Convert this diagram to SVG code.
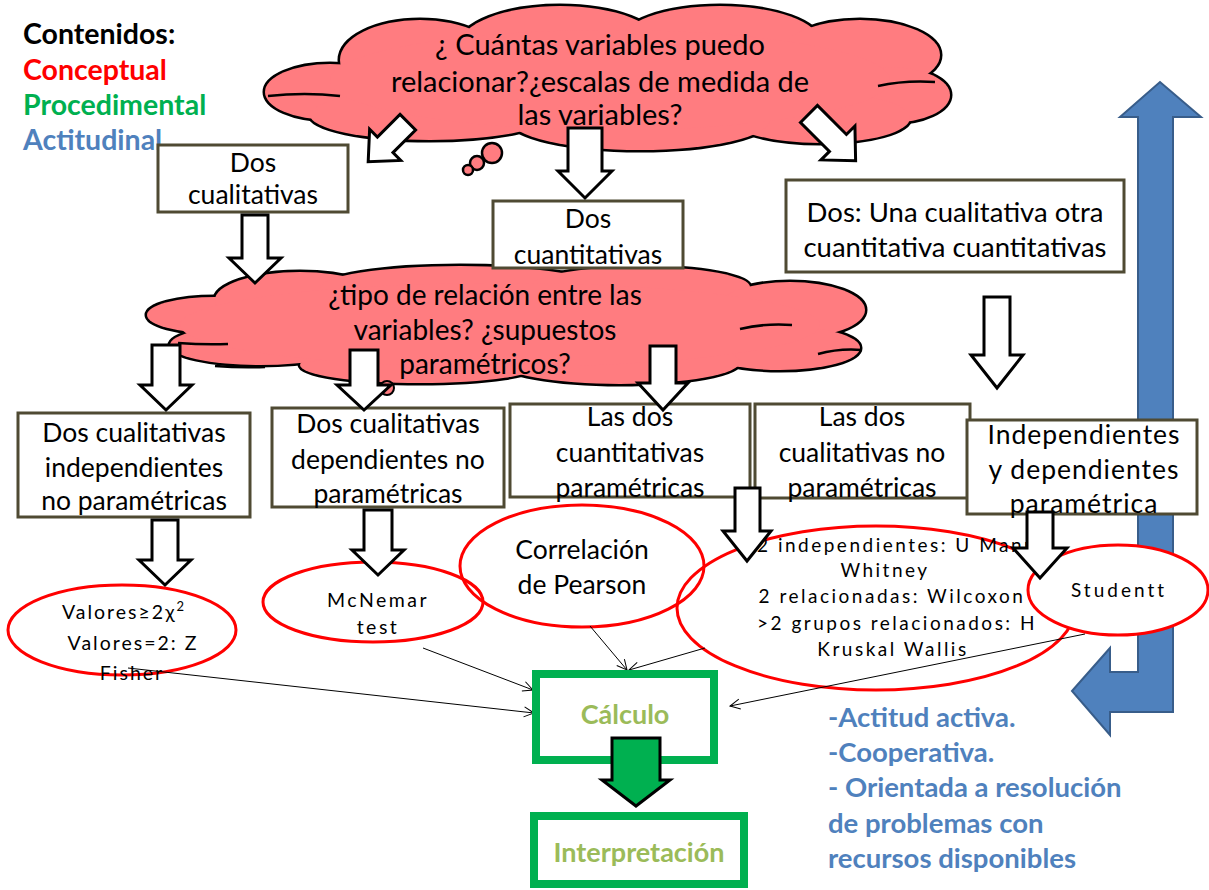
<svg xmlns="http://www.w3.org/2000/svg" width="1209" height="890" viewBox="0 0 1209 890">
<defs>
<style>
text{font-family:Lato,"Open Sans","Liberation Sans",sans-serif;}
.leg{font-size:28.5px;font-weight:bold;}
.cl{font-size:29px;fill:#000;text-anchor:middle;}
.cm{font-size:28px;fill:#000;text-anchor:middle;}
.bx{fill:#fff;stroke:#4F4A33;stroke-width:3;}
.bt{font-size:26.5px;fill:#000;text-anchor:middle;}
.bt2{font-size:27.5px;fill:#000;text-anchor:middle;}
.bt5{font-size:26.5px;fill:#000;text-anchor:middle;letter-spacing:1px;}
.ar{fill:#fff;stroke:#000;stroke-width:3;stroke-linejoin:miter;}
.el{fill:none;stroke:#FF0000;stroke-width:3;}
.elw{fill:#fff;stroke:#FF0000;stroke-width:3;}
.et{font-size:19.5px;fill:#000;text-anchor:middle;letter-spacing:2px;}
.e4{font-size:19px;fill:#000;text-anchor:middle;letter-spacing:2.5px;}
.e41{font-size:19px;fill:#000;text-anchor:start;letter-spacing:2.5px;}
.es{font-size:19px;fill:#000;text-anchor:middle;letter-spacing:3px;}
.eb{font-size:26.5px;fill:#000;text-anchor:middle;}
.cs{fill:#FF7C80;stroke:#000;stroke-width:5;}
.cf{fill:#FF7C80;}
.gb{fill:#fff;stroke:#00B050;stroke-width:8;}
.gt{font-size:27px;font-weight:bold;fill:#9BBB59;text-anchor:middle;}
.bl{font-size:27.5px;font-weight:bold;fill:#4F81BD;}
.cn{fill:none;stroke:#000;stroke-width:1;marker-end:url(#open);}
</style>
<marker id="open" viewBox="0 0 12 12" refX="11" refY="6" markerWidth="12" markerHeight="12" markerUnits="userSpaceOnUse" orient="auto">
<path d="M1,1 L11,6 L1,11" fill="none" stroke="#000" stroke-width="1"/>
</marker>
</defs>

<g id="blue-arrow">
<path d="M1072,691 L1110,648 L1110,672 L1138,672 L1138,117 L1120,117 L1160,82 L1201,117 L1173,117 L1173,712 L1110,712 L1110,735 Z" fill="#4F81BD" stroke="#385D8A" stroke-width="2"/>
</g>

<g id="legend">
<text class="leg" x="23" y="44" fill="#000">Contenidos:</text>
<text class="leg" x="23" y="80" fill="#FF0000">Conceptual</text>
<text class="leg" x="23" y="115" fill="#00B050">Procedimental</text>
<text class="leg" x="23" y="150" fill="#4F81BD">Actitudinal</text>
</g>

<g id="cloud-top">
<g class="cs">
<ellipse cx="330" cy="92" rx="65" ry="28"/>
<ellipse cx="420" cy="60" rx="80" ry="40"/>
<ellipse cx="560" cy="45" rx="100" ry="39"/>
<ellipse cx="720" cy="42" rx="100" ry="36"/>
<ellipse cx="860" cy="55" rx="80" ry="35"/>
<ellipse cx="890" cy="95" rx="60" ry="28"/>
<ellipse cx="820" cy="118" rx="90" ry="25"/>
<ellipse cx="640" cy="120" rx="130" ry="30"/>
<ellipse cx="430" cy="115" rx="120" ry="25"/>
</g>
<g class="cf">
<ellipse cx="330" cy="92" rx="65" ry="28"/>
<ellipse cx="420" cy="60" rx="80" ry="40"/>
<ellipse cx="560" cy="45" rx="100" ry="39"/>
<ellipse cx="720" cy="42" rx="100" ry="36"/>
<ellipse cx="860" cy="55" rx="80" ry="35"/>
<ellipse cx="890" cy="95" rx="60" ry="28"/>
<ellipse cx="820" cy="118" rx="90" ry="25"/>
<ellipse cx="640" cy="120" rx="130" ry="30"/>
<ellipse cx="430" cy="115" rx="120" ry="25"/>
<ellipse cx="610" cy="80" rx="280" ry="50"/>
</g>
<g fill="none" stroke="#000" stroke-width="2.5">
<path d="M268,96 Q305,92 340,96"/>
<path d="M878,86 Q905,80 935,82"/>
</g>
<g fill="#FF7C80" stroke="#000" stroke-width="2.5">
<circle cx="492" cy="153" r="10"/>
<circle cx="477" cy="163" r="7"/>
<circle cx="468" cy="170" r="5"/>
</g>
</g>

<g id="cloud-mid">
<g class="cs">
<ellipse cx="215" cy="315" rx="68" ry="18"/>
<ellipse cx="300" cy="300" rx="85" ry="28"/>
<ellipse cx="460" cy="288" rx="140" ry="22"/>
<ellipse cx="640" cy="287" rx="110" ry="20"/>
<ellipse cx="790" cy="310" rx="75" ry="28"/>
<ellipse cx="780" cy="348" rx="80" ry="22"/>
<ellipse cx="620" cy="362" rx="120" ry="22"/>
<ellipse cx="420" cy="365" rx="120" ry="18"/>
<ellipse cx="260" cy="345" rx="90" ry="20"/>
</g>
<g class="cf">
<ellipse cx="215" cy="315" rx="68" ry="18"/>
<ellipse cx="300" cy="300" rx="85" ry="28"/>
<ellipse cx="460" cy="288" rx="140" ry="22"/>
<ellipse cx="640" cy="287" rx="110" ry="20"/>
<ellipse cx="790" cy="310" rx="75" ry="28"/>
<ellipse cx="780" cy="348" rx="80" ry="22"/>
<ellipse cx="620" cy="362" rx="120" ry="22"/>
<ellipse cx="420" cy="365" rx="120" ry="18"/>
<ellipse cx="260" cy="345" rx="90" ry="20"/>
<ellipse cx="500" cy="325" rx="320" ry="42"/>
</g>
<g fill="none" stroke="#000" stroke-width="2.5">
<path d="M178,343 Q205,345 228,344"/>
<path d="M215,366 Q240,368 265,367"/>
<path d="M740,329 Q765,323 792,325"/>
<path d="M818,354 Q840,348 862,350"/>
</g>
<circle cx="387" cy="388" r="7" fill="#FF7C80" stroke="#000" stroke-width="2"/>
</g>

<g id="box-dos-cualitativas">
<rect class="bx" x="158" y="145" width="190" height="67"/>
<text class="bt" x="253" y="172">Dos</text>
<text class="bt" x="253" y="204">cualitativas</text>
</g>
<g id="box-dos-cuantitativas">
<rect class="bx" x="493" y="201" width="190" height="67"/>
<text class="bt" x="588" y="228">Dos</text>
<text class="bt" x="588" y="264">cuantitativas</text>
</g>
<g id="box-una-cualitativa">
<rect class="bx" x="786" y="180" width="338" height="92"/>
<text class="bt2" x="955" y="222">Dos: Una cualitativa otra</text>
<text class="bt2" x="955" y="257">cuantitativa cuantitativas</text>
</g>

<g id="box-indep-noparam">
<rect class="bx" x="18" y="413" width="232" height="104"/>
<text class="bt" x="134" y="442">Dos cualitativas</text>
<text class="bt" x="134" y="477">independientes</text>
<text class="bt" x="134" y="510">no paramétricas</text>
</g>
<g id="box-dep-noparam">
<rect class="bx" x="272" y="408" width="232" height="99"/>
<text class="bt" x="388" y="433">Dos cualitativas</text>
<text class="bt" x="388" y="469">dependientes no</text>
<text class="bt" x="388" y="503">paramétricas</text>
</g>
<g id="box-cuant-param">
<rect class="bx" x="510" y="404" width="240" height="93"/>
<text class="bt" x="630" y="426">Las dos</text>
<text class="bt" x="630" y="462">cuantitativas</text>
<text class="bt" x="630" y="497">paramétricas</text>
</g>
<g id="box-cual-noparam">
<rect class="bx" x="755" y="404" width="215" height="94"/>
<text class="bt" x="862" y="426">Las dos</text>
<text class="bt" x="862" y="462">cualitativas no</text>
<text class="bt" x="862" y="497">paramétricas</text>
</g>
<g id="box-indep-dep-param">
<rect class="bx" x="967" y="420" width="230" height="94"/>
<text class="bt5" x="1084" y="444">Independientes</text>
<text class="bt5" x="1084" y="479">y dependientes</text>
<text class="bt5" x="1084" y="513">paramétrica</text>
</g>

<g id="block-arrows">
<polygon class="ar" points="568,128 602,128 602,171 612,171 585,198 558,171 568,171"/>
<polygon class="ar" transform="translate(388,142) rotate(45)" points="-11,-28 11,-28 11,4 22,4 0,28 -22,4 -11,4"/>
<polygon class="ar" transform="translate(833,138) rotate(-45)" points="-12,-34 12,-34 12,7 24,7 0,32 -24,7 -12,7"/>
<polygon class="ar" points="242,215 268,215 268,258 281,258 255,283 229,258 242,258"/>
<polygon class="ar" points="984,297 1010,297 1010,355 1023,355 997,388 971,355 984,355"/>
<polygon class="ar" points="152,345 180,345 180,385 192,385 166,410 140,385 152,385"/>
<polygon class="ar" points="350,350 378,350 378,385 391,385 364,410 337,385 350,385"/>
<polygon class="ar" points="650,346 676,346 676,383 688,383 663,410 638,383 650,383"/>
</g>

<g id="cloud-text">
<text class="cl" x="600" y="55">¿ Cuántas variables puedo</text>
<text class="cl" x="600" y="92">relacionar?¿escalas de medida de</text>
<text class="cl" x="600" y="125">las variables?</text>
<text class="cm" x="485" y="305">¿tipo de relación entre las</text>
<text class="cm" x="485" y="340">variables? ¿supuestos</text>
<text class="cm" x="485" y="374">paramétricos?</text>
</g>

<g id="ellipse-chi">
<ellipse class="el" cx="122" cy="630" rx="114" ry="45"/>
<text class="et" x="124" y="619">Valores≥2χ<tspan dy="-8" font-size="13">2</tspan></text>
<text class="et" x="133" y="650">Valores=2: Z</text>
<text class="et" x="132" y="680">Fisher</text>
</g>
<g id="ellipse-pearson">
<ellipse class="el" cx="582" cy="566" rx="122" ry="61"/>
<text class="eb" x="582" y="559">Correlación</text>
<text class="eb" x="582" y="594">de Pearson</text>
</g>
<g id="ellipse-mcnemar">
<ellipse class="el" cx="373" cy="602" rx="110" ry="40"/>
<text class="et" x="378" y="607" style="letter-spacing:2.5px">McNemar</text>
<text class="et" x="378" y="634" style="letter-spacing:2.5px">test</text>
</g>
<g id="ellipse-noparam">
<ellipse class="el" cx="876" cy="608" rx="199" ry="82"/>
<text class="e41" x="757" y="552">2 independientes: U Mann</text>
<text class="e4" x="885" y="577">Whitney</text>
<text class="e4" x="892" y="603">2 relacionadas: Wilcoxon</text>
<text class="e4" x="897" y="630">&gt;2 grupos relacionados: H</text>
<text class="e4" x="893" y="656">Kruskal Wallis</text>
</g>
<g id="ellipse-student">
<ellipse class="elw" cx="1118" cy="590" rx="90" ry="45"/>
<text class="es" x="1119" y="597">Studentt</text>
</g>

<g id="block-arrows-lower">
<polygon class="ar" points="152,520 178,520 178,560 191,560 165,585 139,560 152,560"/>
<polygon class="ar" points="364,510 392,510 392,550 404,550 378,575 352,550 364,550"/>
<polygon class="ar" points="735,488 760,488 760,531 771,531 747,561 723,531 735,531"/>
<polygon class="ar" points="1027,512 1053,512 1053,548 1067,548 1040,578 1013,548 1027,548"/>
</g>

<g id="connectors">
<line class="cn" x1="128" y1="668" x2="534" y2="713"/>
<line class="cn" x1="423" y1="648" x2="533" y2="690"/>
<line class="cn" x1="590" y1="626" x2="627" y2="670"/>
<line class="cn" x1="705" y1="648" x2="629" y2="670"/>
<line class="cn" x1="1085" y1="634" x2="730" y2="706"/>
</g>

<g id="calculo">
<rect class="gb" x="536" y="674" width="178" height="86"/>
<text class="gt" x="625" y="724">Cálculo</text>
</g>
<polygon id="green-arrow" points="612,738 660,738 660,780 670,780 636,806 602,780 612,780" fill="#00B050" stroke="#000" stroke-width="3"/>
<g id="interpretacion">
<rect class="gb" x="534" y="816" width="210" height="68"/>
<text class="gt" x="639" y="862">Interpretación</text>
</g>

<g id="actitud-text">
<text class="bl" x="828" y="727">-Actitud activa.</text>
<text class="bl" x="828" y="762">-Cooperativa.</text>
<text class="bl" x="828" y="797">- Orientada a resolución</text>
<text class="bl" x="828" y="833">de problemas con</text>
<text class="bl" x="828" y="868">recursos disponibles</text>
</g>
</svg>
